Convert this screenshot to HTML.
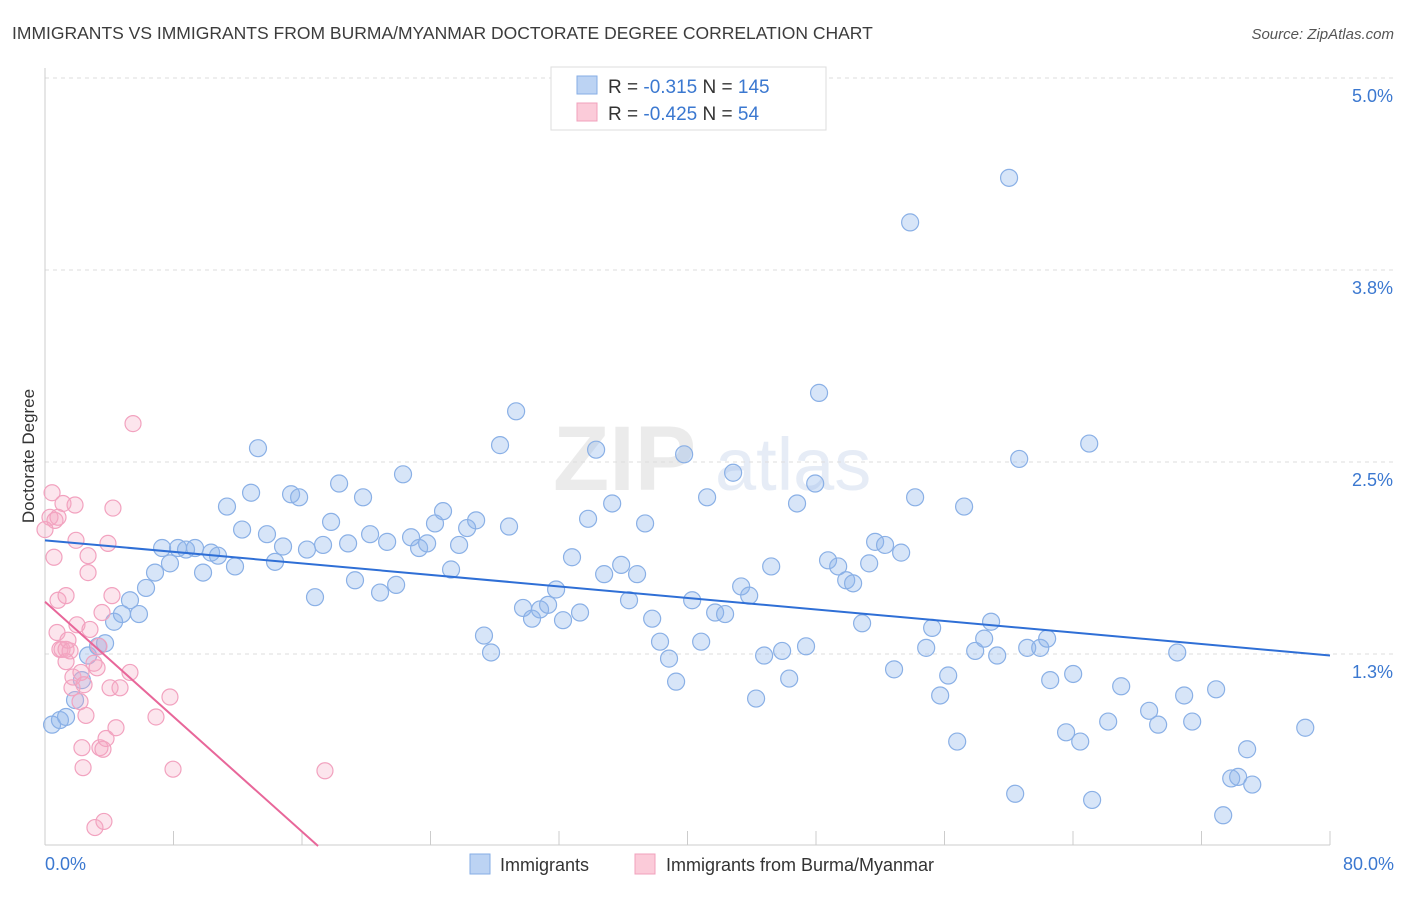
<!DOCTYPE html>
<html><head><meta charset="utf-8"><style>
body{margin:0;background:#fff;font-family:"Liberation Sans",sans-serif;}
svg text{font-family:"Liberation Sans",sans-serif;}
</style></head><body>
<svg id="chart" width="1406" height="892" viewBox="0 0 1406 892" xmlns="http://www.w3.org/2000/svg">
<text x="12" y="39" font-size="17.5" fill="#3c3c3c">IMMIGRANTS VS IMMIGRANTS FROM BURMA/MYANMAR DOCTORATE DEGREE CORRELATION CHART</text>
<text x="1394" y="39" font-size="15" fill="#555" text-anchor="end" font-style="italic">Source: ZipAtlas.com</text>
<g opacity="0.35">
<text x="553" y="490" font-size="92" fill="#c8c8c8" font-family="Liberation Serif" font-weight="bold">ZIP</text>
<text x="715" y="490" font-size="74" fill="#b8cbe6">atlas</text>
</g>
<g id="grid"></g>
<g id="axes"></g>
<g id="pts"></g>
<g id="trend"></g>
<text transform="translate(34,456) rotate(-90)" text-anchor="middle" font-size="17" fill="#333">Doctorate Degree</text>
<g>
<rect x="551" y="67" width="275" height="63" fill="#fff" stroke="#ddd"/>
<rect x="577" y="76" width="20" height="18" fill="#bcd3f3" stroke="#86aee6"/>
<rect x="577" y="103" width="20" height="18" fill="#fbcbd9" stroke="#f0a0bc"/>
<text x="608" y="93" font-size="19" fill="#333">R = <tspan fill="#3b78d0">-0.315</tspan>   N = <tspan fill="#3b78d0">145</tspan></text>
<text x="608" y="120" font-size="19" fill="#333">R = <tspan fill="#3b78d0">-0.425</tspan>   N = <tspan fill="#3b78d0"> 54</tspan></text>
</g>
<g>
<rect x="470" y="854" width="20" height="20" fill="#bcd3f3" stroke="#86aee6"/>
<text x="500" y="871" font-size="18" fill="#333">Immigrants</text>
<rect x="635" y="854" width="20" height="20" fill="#fbcbd9" stroke="#f0a0bc"/>
<text x="666" y="871" font-size="18" fill="#333">Immigrants from Burma/Myanmar</text>
</g>
</svg>
<script>
const xTicks=[0,8,16,24,32,40,48,56,64,72,80];
const yTicks=[1.25,2.5,3.75,5.0];
const yTickLabels=["1.3%","2.5%","3.8%","5.0%"];
const xEndLabels=["0.0%","80.0%"];
const blueX=[.44,.93,1.31,1.87,2.30,2.68,3.30,3.74,4.30,4.79,5.29,5.85,6.29,6.85,7.29,7.78,8.28,8.78,9.34,9.84,10.34,10.77,11.33,11.83,12.27,12.83,13.26,13.82,14.32,14.82,15.32,15.82,16.31,16.81,17.31,17.81,18.31,18.87,19.30,19.80,20.24,20.86,21.30,21.86,22.29,22.79,23.29,23.79,24.28,24.78,25.28,25.78,26.28,26.84,27.33,27.77,28.33,28.89,29.33,29.76,30.32,30.82,31.32,31.82,32.25,32.81,33.31,33.81,34.31,34.81,35.31,35.87,36.36,36.86,37.36,37.80,38.29,38.85,39.29,39.79,40.29,40.85,41.22,41.72,42.34,42.84,43.34,43.84,44.27,44.77,45.21,45.89,46.33,46.82,47.38,47.95,48.19,48.75,49.38,49.88,50.31,50.87,51.31,51.68,52.30,52.86,53.30,53.86,54.17,54.86,55.23,55.73,56.23,56.79,57.22,57.91,58.47,58.90,59.28,60.02,60.40,60.65,61.15,61.96,62.39,62.58,63.57,64.01,64.45,65.01,65.19,66.19,67.00,68.74,69.30,70.49,70.92,71.42,72.91,73.35,73.85,74.28,74.84,75.16,78.46];
const blueY=[.79,.82,.84,.95,1.08,1.24,1.30,1.32,1.46,1.51,1.60,1.51,1.68,1.78,1.94,1.84,1.94,1.93,1.94,1.78,1.91,1.89,2.21,1.82,2.06,2.30,2.59,2.03,1.85,1.95,2.29,2.27,1.93,1.62,1.96,2.11,2.36,1.97,1.73,2.27,2.03,1.65,1.98,1.70,2.42,2.01,1.94,1.97,2.10,2.18,1.80,1.96,2.07,2.12,1.37,1.26,2.61,2.08,2.83,1.55,1.48,1.54,1.57,1.67,1.47,1.88,1.52,2.13,2.58,1.77,2.23,1.83,1.60,1.77,2.10,1.48,1.33,1.22,1.07,2.55,1.60,1.33,2.27,1.52,1.51,2.43,1.69,1.63,.96,1.24,1.82,1.27,1.09,2.23,1.30,2.36,2.95,1.86,1.82,1.73,1.71,1.45,1.84,1.98,1.96,1.15,1.91,4.06,2.27,1.29,1.42,.98,1.11,.68,2.21,1.27,1.35,1.46,1.24,4.35,.34,2.52,1.29,1.29,1.35,1.08,.74,1.12,.68,2.62,.30,.81,1.04,.88,.79,1.26,.98,.81,1.02,.20,.44,.45,.63,.40,.77];
const pinkX=[.31,.44,.62,.56,.75,.81,.93,1.06,1.12,1.31,1.31,1.43,1.56,1.68,1.74,1.87,1.93,1.99,2.18,2.24,2.30,2.37,2.43,2.55,2.68,2.68,2.80,3.05,3.11,3.24,3.36,3.42,3.55,3.61,3.67,3.80,3.92,4.05,4.17,4.23,4.42,4.67,5.29,5.48,6.91,7.78,7.97,17.43,0,.81,1.31];
const pinkY=[2.14,2.30,2.12,1.88,1.39,1.60,1.28,1.28,2.23,1.28,1.63,1.34,1.27,1.03,1.10,2.22,1.99,1.44,.94,1.13,.64,.51,1.05,.85,1.89,1.78,1.41,1.19,.12,1.16,1.30,.64,1.52,.63,.16,.70,1.97,1.03,1.63,2.20,.77,1.03,1.13,2.75,.84,.97,.50,.49,2.06,2.14,1.20];
const blueTrendX=[0,80], blueTrendY=[1.99,1.24];
const pinkTrendX=[0,17.0], pinkTrendY=[1.59,0];

const NS="http://www.w3.org/2000/svg";
const X=v=>45+v/80*1285;
const Y=v=>846-v*153.6;
function mk(tag,attrs,parent){const e=document.createElementNS(NS,tag);for(const k in attrs)e.setAttribute(k,attrs[k]);parent.appendChild(e);return e;}
const grid=document.getElementById('grid'),axes=document.getElementById('axes'),pts=document.getElementById('pts'),trend=document.getElementById('trend');
yTicks.forEach((t,i)=>{
 const l=mk('line',{x1:45,x2:1394,y1:Y(t),y2:Y(t),stroke:'#ddd','stroke-dasharray':'4,4'},grid);
 
 
 const tx=mk('text',{x:1393,y:Y(t)+24,'text-anchor':'end','font-size':18,fill:'#3b78d0'},axes);
 tx.textContent=yTickLabels[i];
 
 
});
const ax=mk('line',{x1:45,x2:1330,y1:845,y2:845,stroke:'#ccc'},axes);


const ay=mk('line',{x1:45,x2:45,y1:68,y2:845,stroke:'#ccc'},axes);


xTicks.forEach(t=>{
 const l=mk('line',{x1:X(t),x2:X(t),y1:831,y2:845,stroke:'#ccc'},axes);
 
 
});
[[0,'start',45],[80,'end',1394]].forEach((d,i)=>{
 const tx=mk('text',{x:d[2],y:870,'text-anchor':d[1],'font-size':18,fill:'#3b78d0'},axes);
 tx.textContent=xEndLabels[i];
 
 
});
blueX.forEach((x,i)=>{
 const c=mk('circle',{cx:X(x),cy:Y(blueY[i]),r:8.5,fill:'rgba(140,180,235,0.35)',stroke:'#8ab0e6','stroke-width':1.2},pts);
 
 
});
pinkX.forEach((x,i)=>{
 const c=mk('circle',{cx:X(x),cy:Y(pinkY[i]),r:8,fill:'rgba(245,170,195,0.3)',stroke:'#f2a2bf','stroke-width':1.2},pts);
 
 
});
const bt=mk('line',{x1:X(blueTrendX[0]),y1:Y(blueTrendY[0]),x2:X(blueTrendX[1]),y2:Y(blueTrendY[1]),stroke:'#2f6fd6','stroke-width':2},trend);


const pt=mk('line',{x1:X(pinkTrendX[0]),y1:Y(pinkTrendY[0]),x2:X(pinkTrendX[1]),y2:Y(pinkTrendY[1]),stroke:'#e8679a','stroke-width':2},trend);


</script>
</body></html>
